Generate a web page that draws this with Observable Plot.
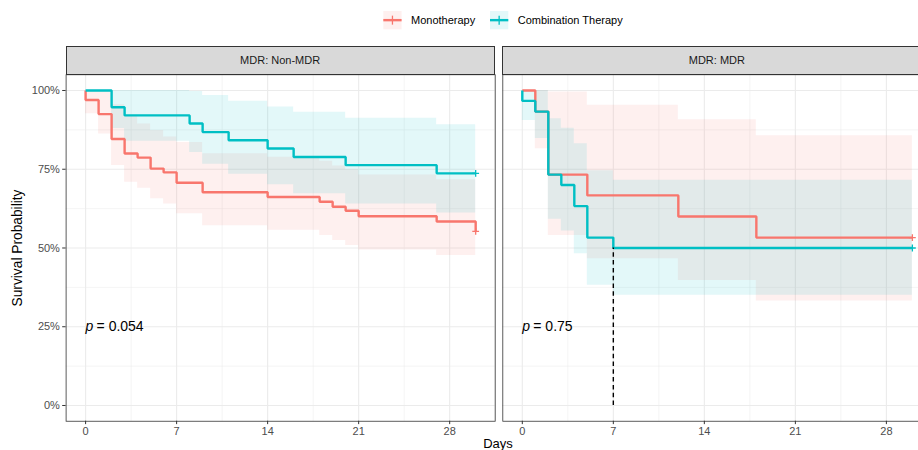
<!DOCTYPE html>
<html>
<head>
<meta charset="utf-8">
<script src="https://cdn.jsdelivr.net/npm/d3@7"></script>
<script src="https://cdn.jsdelivr.net/npm/@observablehq/plot@0.6"></script>
<style>
html, body { margin: 0; padding: 0; overflow: hidden; background: #fff; }
#root { position: relative; width: 918px; height: 450px; overflow: hidden;
        font-family: "Liberation Sans", Arial, sans-serif; }
.abs { position: absolute; }
.strip { position: absolute; box-sizing: border-box; background: #D9D9D9; border: 0.8px solid #333;
         color: #1A1A1A; font-size: 11px; display: flex; align-items: center; justify-content: center; }
.title { position: absolute; font-size: 13.75px; color: #000; white-space: nowrap; line-height: 1; }
</style>
</head>
<body>
<div id="root"></div>
<script>
// ---------------- data ----------------
const panels = ["MDR: Non-MDR", "MDR: MDR"];
const groups = ["Monotherapy", "Combination Therapy"];
const colors = ["#F8766D", "#00BFC4"];

const xTicks = [0, 7, 14, 21, 28];
const xMinor = [3.5, 10.5, 17.5, 24.5, 31.5];
const yTicks = [0, 0.25, 0.5, 0.75, 1];
const yMinor = [0.125, 0.375, 0.625, 0.875];
const yTickLabels = ["0%", "25%", "50%", "75%", "100%"];

// Non-MDR, Monotherapy
const nmMonoTime  = [0, 0, 1, 2, 3, 4, 5, 6, 7, 9, 14, 18, 19, 20, 21, 27, 30];
const nmMonoSurv  = [1, 0.970, 0.925, 0.846, 0.800, 0.787, 0.752, 0.740, 0.707, 0.677, 0.662, 0.647, 0.631, 0.618, 0.601, 0.584, 0.553];
const nmMonoLower = [1, 0.926, 0.862, 0.762, 0.709, 0.690, 0.656, 0.640, 0.609, 0.571, 0.556, 0.540, 0.524, 0.508, 0.494, 0.476, 0.476];
const nmMonoUpper = [1, 1, 1, 0.955, 0.920, 0.894, 0.873, 0.852, 0.835, 0.799, 0.788, 0.775, 0.760, 0.748, 0.732, 0.717, 0.717];

// Non-MDR, Combination Therapy
const nmComboTime  = [0, 2, 3, 8, 9, 11, 14, 16, 20, 27, 30];
const nmComboSurv  = [1, 0.947, 0.921, 0.895, 0.868, 0.842, 0.816, 0.789, 0.763, 0.737, 0.737];
const nmComboLower = [1, 0.879, 0.839, 0.803, 0.766, 0.734, 0.701, 0.672, 0.640, 0.611, 0.611];
const nmComboUpper = [1, 1, 1, 0.997, 0.984, 0.966, 0.948, 0.931, 0.912, 0.891, 0.891];

// MDR, Monotherapy
const mMonoTime  = [0, 1, 2, 5, 12, 18, 30];
const mMonoSurv  = [1, 0.933, 0.733, 0.667, 0.600, 0.533, 0.533];
const mMonoLower = [1, 0.815, 0.540, 0.466, 0.397, 0.332, 0.332];
const mMonoUpper = [1, 1, 0.995, 0.953, 0.907, 0.856, 0.856];

// MDR, Combination Therapy
const mComboTime  = [0, 0, 1, 2, 3, 4, 5, 7, 30];
const mComboSurv  = [1, 0.967, 0.933, 0.733, 0.700, 0.633, 0.533, 0.500, 0.500];
const mComboLower = [1, 0.905, 0.848, 0.591, 0.554, 0.482, 0.382, 0.350, 0.350];
const mComboUpper = [1, 1, 1, 0.910, 0.880, 0.831, 0.745, 0.715, 0.715];

// censored observations (time, survival) per panel: [mono, combo]
const nmCensorTime = [30, 30];
const nmCensorSurv = [0.553, 0.737];
const mCensorTime  = [30, 30];
const mCensorSurv  = [0.533, 0.500];

// log-rank p-values and median survival
const pValues = ["0.054", "0.75"];
const pLabelDay = 0, pLabelSurv = 0.25;
const mMedianTime = [7];
const mMedianSurv = [0.5];

// ---------------- helpers ----------------
const rows = (t, s, lo, hi) => t.map((d, i) => ({t: d, s: s[i], lo: lo[i], hi: hi[i]}));
const plusSymbol = {
  draw(ctx, size) {
    const r = Math.sqrt(size / Math.PI);
    ctx.moveTo(-r, 0); ctx.lineTo(r, 0);
    ctx.moveTo(0, -r); ctx.lineTo(0, r);
  }
};

const W_PANEL = 429.1;
const HEIGHT = 460, M_TOP = 74.25, M_BOTTOM = 39.25;

function panelPlot({series, cTime, cSurv, pval, median, showY, width, marginLeft, marginRight}) {
  const gridStyle = {stroke: "#EBEBEB", strokeOpacity: 1};
  const marks = [
    Plot.gridY(yMinor, {...gridStyle, strokeWidth: 0.55}),
    Plot.gridX(xMinor, {...gridStyle, strokeWidth: 0.55}),
    Plot.gridY(yTicks, {...gridStyle, strokeWidth: 1.1}),
    Plot.gridX(xTicks, {...gridStyle, strokeWidth: 1.1})
  ];
  series.forEach((d, i) => marks.push(Plot.areaY(d, {
    x: "t", y1: "lo", y2: "hi", curve: "step-after", fill: colors[i], fillOpacity: 0.11
  })));
  series.forEach((d, i) => marks.push(Plot.line(d, {
    x: "t", y: "s", curve: "step-after", stroke: colors[i], strokeWidth: 2.4,
    strokeLinecap: "butt", strokeLinejoin: "miter"
  })));
  cTime.forEach((t, i) => marks.push(Plot.dot([{t, s: cSurv[i]}], {
    x: "t", y: "s", symbol: plusSymbol, r: 3.4, stroke: colors[i], strokeWidth: 1.3, fill: "none"
  })));
  if (median) {
    marks.push(Plot.ruleX(median, {
      x: "t", y1: 0, y2: "s", stroke: "#000", strokeWidth: 1.4, strokeDasharray: "4.5,3.3"
    }));
  }
  const pData = [{x: pLabelDay, y: pLabelSurv, p: pval}];
  marks.push(Plot.text(pData, {x: "x", y: "y", text: () => "p", fontStyle: "italic",
    textAnchor: "start", fontSize: 14, fill: "#000"}));
  marks.push(Plot.text(pData, {x: "x", y: "y", text: d => "= " + d.p, dx: 11,
    textAnchor: "start", fontSize: 14, fill: "#000"}));
  marks.push(Plot.frame({stroke: "#333", strokeWidth: 0.8}));
  marks.push(Plot.axisX(xTicks, {tickSize: 3.4, tickPadding: 2.8, fontSize: 11,
    stroke: "#333", fill: "#4D4D4D", label: null}));
  if (showY) {
    marks.push(Plot.axisY(yTicks, {tickSize: 3.4, tickPadding: 2.8, fontSize: 11,
      stroke: "#333", fill: "#4D4D4D", label: null,
      tickFormat: d => yTickLabels[yTicks.indexOf(d)]}));
  }
  return Plot.plot({
    width, height: HEIGHT,
    marginLeft, marginRight, marginTop: M_TOP, marginBottom: M_BOTTOM,
    x: {domain: [-1.5, 31.5], axis: null},
    y: {domain: [-0.05, 1.05], axis: null},
    style: {fontFamily: '"Liberation Sans", Arial, sans-serif', fontSize: "11px",
            background: "none", overflow: "visible", color: "#4D4D4D"},
    marks
  });
}

const root = document.getElementById("root");

const leftPlot = panelPlot({
  series: [rows(nmMonoTime, nmMonoSurv, nmMonoLower, nmMonoUpper),
           rows(nmComboTime, nmComboSurv, nmComboLower, nmComboUpper)],
  cTime: nmCensorTime, cSurv: nmCensorSurv, pval: pValues[0], median: null,
  showY: true, width: 65.6 + W_PANEL + 1, marginLeft: 65.6, marginRight: 1
});
leftPlot.classList.add("abs");
leftPlot.style.left = "0px"; leftPlot.style.top = "0px";
root.appendChild(leftPlot);

const medianRows = mMedianTime.map((t, i) => ({t, s: mMedianSurv[i]}));
const rightPlot = panelPlot({
  series: [rows(mMonoTime, mMonoSurv, mMonoLower, mMonoUpper),
           rows(mComboTime, mComboSurv, mComboLower, mComboUpper)],
  cTime: mCensorTime, cSurv: mCensorSurv, pval: pValues[1], median: medianRows,
  showY: false, width: 12.3 + W_PANEL + 6, marginLeft: 12.3, marginRight: 6
});
rightPlot.classList.add("abs");
rightPlot.style.left = "490px"; rightPlot.style.top = "0px";
rightPlot.style.maxWidth = "none";
root.appendChild(rightPlot);

// strips
const stripLefts = [65.6, 502.3];
panels.forEach((p, i) => {
  const s = document.createElement("div");
  s.className = "strip";
  s.style.left = stripLefts[i] + "px";
  s.style.top = "46px";
  s.style.width = W_PANEL + "px";
  s.style.height = "28.6px";
  s.textContent = p;
  root.appendChild(s);
});

// axis titles
const yt = document.createElement("div");
yt.className = "title";
yt.style.left = "18px"; yt.style.top = "247.5px";
yt.style.transform = "translate(-50%, -50%) rotate(-90deg)";
yt.textContent = "Survival Probability";
root.appendChild(yt);

const xt = document.createElement("div");
xt.className = "title";
xt.style.left = "498px"; xt.style.top = "443px";
xt.style.fontSize = "13px";
xt.style.transform = "translate(-50%, -50%)";
xt.textContent = "Days";
root.appendChild(xt);

// legend
const legendLayout = [{kx: 383.3, tx: 411}, {kx: 490, tx: 517.7}];
const leg = d3.select(root).append("svg").attr("class", "abs")
  .style("left", "0px").style("top", "0px").attr("width", 918).attr("height", 40);
groups.forEach((g, i) => {
  const {kx, tx} = legendLayout[i];
  const k = 18.3, ky = 11;
  leg.append("rect").attr("x", kx).attr("y", ky).attr("width", k).attr("height", k)
    .attr("fill", colors[i]).attr("fill-opacity", 0.11);
  leg.append("line").attr("x1", kx).attr("x2", kx + k).attr("y1", ky + k / 2).attr("y2", ky + k / 2)
    .attr("stroke", colors[i]).attr("stroke-width", 2.4);
  leg.append("line").attr("x1", kx + k / 2).attr("x2", kx + k / 2).attr("y1", ky + k / 2 - 4.5).attr("y2", ky + k / 2 + 4.5)
    .attr("stroke", colors[i]).attr("stroke-width", 1.3);
  leg.append("text").attr("x", tx).attr("y", ky + k / 2).attr("dy", "0.35em")
    .attr("font-family", '"Liberation Sans", Arial, sans-serif').attr("font-size", 11)
    .attr("fill", "#000").text(g);
});
</script>
</body>
</html>
